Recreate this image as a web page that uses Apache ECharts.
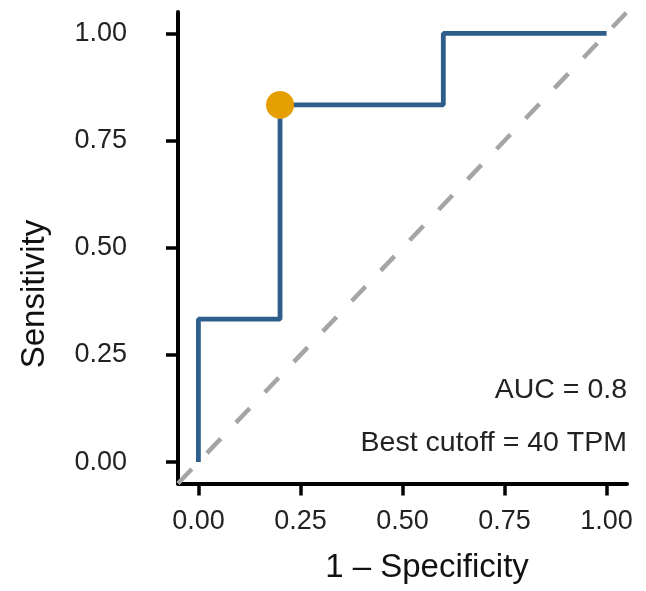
<!DOCTYPE html>
<html><head><meta charset="utf-8">
<script src="https://cdn.jsdelivr.net/npm/echarts@6/dist/echarts.min.js"></script>
<style>html,body{margin:0;padding:0;background:#fff}#c{width:646px;height:591px}</style>
</head><body><div id="c"></div>
<script>
const fpr = [0, 0, 0.2, 0.2, 0.6, 0.6, 1.0];
const tpr = [0, 0.3333, 0.3333, 0.8333, 0.8333, 1.0, 1.0];
const bestPoint = [0.2, 0.8333];
const diagonalX = [-0.05, 1.05];
const diagonalY = [-0.05, 1.05];
const tickValues = [0, 0.25, 0.5, 0.75, 1.0];
const aucText = 'AUC = 0.8';
const cutoffText = 'Best cutoff = 40 TPM';
const xTitle = '1 \u2013 Specificity';
const yTitle = 'Sensitivity';

const chart = echarts.init(document.getElementById('c'), null, {renderer: 'canvas'});
const font = '"Liberation Sans", Arial, Helvetica, sans-serif';
function axis(isY) {
  return {
    type: 'value', min: -0.05, max: 1.05, interval: 0.05,
    axisLine: {show: true, onZero: false, lineStyle: {color: '#000', width: 4}},
    axisTick: {show: true, length: 12, lineStyle: {color: '#000', width: 3.5},
      customValues: tickValues},
    axisLabel: {fontFamily: font, fontSize: 27, color: '#222',
      margin: isY ? 51 : 25,
      padding: isY ? [10, 0, 0, 0] : 0,
      customValues: tickValues, formatter: v => v.toFixed(2)},
    splitLine: {show: false}
  };
}
chart.setOption({
  animation: false,
  grid: {left: 178, top: 12, width: 449, height: 471.5, containLabel: false},
  xAxis: axis(false),
  yAxis: axis(true),
  series: [
    {type: 'line', data: diagonalX.map((x, i) => [x, diagonalY[i]]), symbol: 'none', z: 1,
      lineStyle: {color: '#a5a5a5', width: 4.5, type: [20, 22], cap: 'butt'}},
    {type: 'line', data: fpr.map((x, i) => [x, tpr[i]]), symbol: 'none', z: 2,
      lineStyle: {color: '#2d5e8c', width: 4.8}},
    {type: 'scatter', data: [bestPoint], symbolSize: 28, z: 3,
      itemStyle: {color: '#E69F00', opacity: 1}}
  ],
  graphic: [
    {type: 'text', x: 627, y: 390,
      style: {text: aucText, font: '28.5px ' + font, fill: '#222', align: 'right', verticalAlign: 'middle'}},
    {type: 'text', x: 627, y: 443,
      style: {text: cutoffText, font: '28.5px ' + font, fill: '#222', align: 'right', verticalAlign: 'middle'}},
    {type: 'text', x: 427, y: 568,
      style: {text: xTitle, font: '33px ' + font, fill: '#111', align: 'center', verticalAlign: 'middle'}},
    {type: 'text', x: 35, y: 294, rotation: Math.PI / 2,
      style: {text: yTitle, font: '33px ' + font, fill: '#111', align: 'center', verticalAlign: 'middle'}}
  ]
});
</script></body></html>
